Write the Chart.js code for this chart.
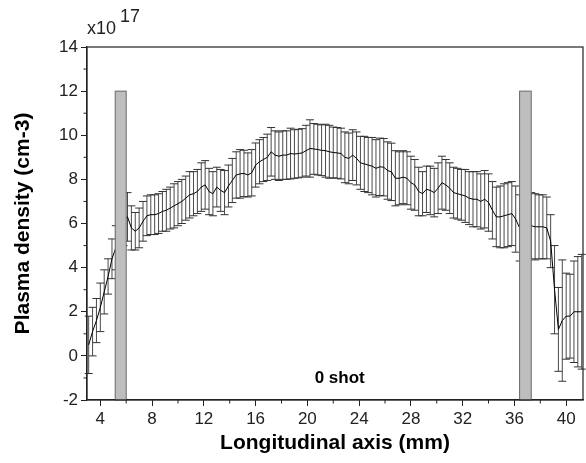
<!DOCTYPE html>
<html>
<head>
<meta charset="utf-8">
<script src="https://cdn.jsdelivr.net/npm/chart.js@4.4.1/dist/chart.umd.min.js"></script>
<style>
  body { margin: 0; background: #fff; }
  canvas { display: block; }
</style>
</head>
<body>
<canvas id="densityChart" width="586" height="463"></canvas>
<script>
// 縦軸位置 (mm)
const positions = [
  3.1, 3.4, 3.7, 4.0, 4.3, 4.6, 4.9, 5.2, 5.5, 5.8,
  6.1, 6.4, 6.7, 7.0, 7.3, 7.6, 7.9, 8.2, 8.5, 8.8,
  9.1, 9.4, 9.7, 10.0, 10.3, 10.6, 10.9, 11.2, 11.5, 11.8,
  12.1, 12.4, 12.7, 13.0, 13.3, 13.6, 13.9, 14.2, 14.5, 14.8,
  15.1, 15.4, 15.7, 16.0, 16.3, 16.6, 16.9, 17.2, 17.5, 17.8,
  18.1, 18.4, 18.7, 19.0, 19.3, 19.6, 19.9, 20.2, 20.5, 20.8,
  21.1, 21.4, 21.7, 22.0, 22.3, 22.6, 22.9, 23.2, 23.5, 23.8,
  24.1, 24.4, 24.7, 25.0, 25.3, 25.6, 25.9, 26.2, 26.5, 26.8,
  27.1, 27.4, 27.7, 28.0, 28.3, 28.6, 28.9, 29.2, 29.5, 29.8,
  30.1, 30.4, 30.7, 31.0, 31.3, 31.6, 31.9, 32.2, 32.5, 32.8,
  33.1, 33.4, 33.7, 34.0, 34.3, 34.6, 34.9, 35.2, 35.5, 35.8,
  36.1, 36.4, 36.7, 37.0, 37.3, 37.6, 37.9, 38.2, 38.5, 38.8,
  39.1, 39.4, 39.7, 40.0, 40.3, 40.6, 40.9, 41.2
];

// プラズマ密度 (x10^17 cm-3)
const density = [
  0.5, 1.1, 1.6, 2.2, 2.9, 3.6, 4.4, 4.9, 5.6, 6.2,
  6.3, 5.8, 5.65, 5.8, 6.1, 6.35, 6.4, 6.4, 6.45, 6.55,
  6.6, 6.7, 6.8, 6.9, 7.0, 7.15, 7.3, 7.35, 7.45, 7.65,
  7.75, 7.45, 7.35, 7.65, 7.5, 7.4, 7.7, 7.95, 8.2, 8.25,
  8.27, 8.2, 8.3, 8.65, 8.8, 8.9, 9.0, 9.25, 9.1, 9.05,
  9.1, 9.1, 9.17, 9.15, 9.17, 9.2, 9.3, 9.4, 9.38, 9.35,
  9.32, 9.3, 9.25, 9.22, 9.2, 9.17, 9.0, 8.95, 9.1, 8.95,
  8.75, 8.7, 8.65, 8.6, 8.5, 8.57, 8.55, 8.4, 8.34, 8.05,
  8.05, 8.1, 8.05, 7.85, 7.75, 7.45, 7.35, 7.55, 7.5, 7.4,
  7.6, 7.85, 7.75, 7.6, 7.4, 7.35, 7.3, 7.25, 7.15, 7.1,
  7.1, 7.0, 7.1, 6.95, 6.6, 6.3, 6.3, 6.35, 6.4, 6.45,
  6.2, 5.8, 5.8, 5.85, 5.9, 5.85, 5.85, 5.85, 5.8, 5.2,
  3.0, 1.2, 1.6, 1.8, 1.8, 2.0, 2.0, 2.0
];

// 誤差 (±)
const errors = [
  1.3, 1.1, 1.0, 1.1, 1.0, 0.8, 0.9, 1.0, 1.1, 1.2,
  1.1, 1.0, 0.85, 0.9, 0.9, 0.9, 0.9, 0.9, 0.9, 0.9,
  0.95, 0.95, 1.0, 1.0, 1.0, 1.0, 1.05, 1.0, 1.0, 1.1,
  1.1, 1.05, 1.0, 0.9, 0.95, 1.0, 0.95, 1.0, 1.05, 1.1,
  1.05, 1.0, 1.05, 1.0, 1.0, 1.0, 1.05, 1.1, 1.1, 1.1,
  1.1, 1.1, 1.15, 1.1, 1.1, 1.1, 1.15, 1.3, 1.15, 1.15,
  1.15, 1.2, 1.2, 1.15, 1.15, 1.15, 1.15, 1.15, 1.15, 1.2,
  1.2, 1.25, 1.25, 1.3, 1.3, 1.3, 1.3, 1.3, 1.3, 1.25,
  1.2, 1.2, 1.2, 1.2, 1.15, 1.1, 1.0, 1.05, 1.1, 1.1,
  1.15, 1.2, 1.15, 1.15, 1.15, 1.15, 1.15, 1.2, 1.2, 1.25,
  1.25, 1.25, 1.3, 1.3, 1.3, 1.35, 1.4, 1.45, 1.45, 1.45,
  1.5, 1.5, 1.5, 1.5, 1.5, 1.5, 1.45, 1.45, 1.4, 1.2,
  2.0, 1.9, 2.75, 1.95, 1.9, 2.3, 2.5, 2.6
];

// 電極位置 (灰色の帯)
const electrodeStart = [5.15, 36.4];
const electrodeEnd = [6.0, 37.3];
const electrodeTop = 12;

// 目盛り
const xMajorTicks = [4, 8, 12, 16, 20, 24, 28, 32, 36, 40];
const xMinorTicks = [6, 10, 14, 18, 22, 26, 30, 34, 38];
const yMajorTicks = [-2, 0, 2, 4, 6, 8, 10, 12, 14];
const yMinorTicks = [-1, 1, 3, 5, 7, 9, 11, 13];

const shotLabel = '0 shot';
const shotLabelPos = { x: 22.5, y: -1.0 };

const FONT = "'Liberation Sans', Arial, sans-serif";

// エラーバー描画
const errorBarPlugin = {
  id: 'errorBars',
  beforeDatasetsDraw(chart) {
    const { ctx, scales: { x, y } } = chart;
    ctx.save();
    ctx.lineWidth = 1;
    positions.forEach((pos, i) => {
      const px = x.getPixelForValue(pos);
      const top = y.getPixelForValue(density[i] + errors[i]);
      const bottom = y.getPixelForValue(density[i] - errors[i]);
      // 縦線
      ctx.strokeStyle = '#4a4a4a';
      ctx.beginPath();
      ctx.moveTo(px, top);
      ctx.lineTo(px, bottom);
      ctx.stroke();
      // キャップ
      ctx.strokeStyle = '#333';
      ctx.beginPath();
      ctx.moveTo(px - 4, top);
      ctx.lineTo(px + 4, top);
      ctx.moveTo(px - 4, bottom);
      ctx.lineTo(px + 4, bottom);
      ctx.stroke();
    });
    ctx.restore();
  }
};

// 電極・枠・ラベル
const overlayPlugin = {
  id: 'overlay',
  afterDatasetsDraw(chart) {
    const { ctx, chartArea, scales: { x, y } } = chart;
    ctx.save();

    electrodeStart.forEach((start, i) => {
      const left = x.getPixelForValue(start);
      const right = x.getPixelForValue(electrodeEnd[i]);
      const top = y.getPixelForValue(electrodeTop);
      const bottom = y.getPixelForValue(y.min);
      ctx.fillStyle = '#bebebe';
      ctx.fillRect(left, top, right - left, bottom - top);
      ctx.strokeStyle = '#6a6a6a';
      ctx.lineWidth = 1;
      ctx.strokeRect(left, top, right - left, bottom - top);
    });

    // 枠線
    ctx.strokeStyle = '#222';
    ctx.lineWidth = 1.2;
    ctx.strokeRect(chartArea.left, chartArea.top,
      chartArea.right - chartArea.left, chartArea.bottom - chartArea.top);

    // 補助目盛り
    ctx.lineWidth = 1;
    ctx.beginPath();
    xMinorTicks.forEach(v => {
      const px = x.getPixelForValue(v);
      ctx.moveTo(px, chartArea.bottom);
      ctx.lineTo(px, chartArea.bottom + 3.5);
    });
    yMinorTicks.forEach(v => {
      const py = y.getPixelForValue(v);
      ctx.moveTo(chartArea.left, py);
      ctx.lineTo(chartArea.left - 3.5, py);
    });
    ctx.stroke();

    // ショット数
    ctx.fillStyle = '#000';
    ctx.font = 'bold 17px ' + FONT;
    ctx.textAlign = 'center';
    ctx.textBaseline = 'middle';
    ctx.fillText(shotLabel, x.getPixelForValue(shotLabelPos.x), y.getPixelForValue(shotLabelPos.y));

    // 指数表示
    ctx.fillStyle = '#222';
    ctx.font = '18px ' + FONT;
    ctx.textAlign = 'left';
    ctx.textBaseline = 'alphabetic';
    ctx.fillText('x10', chartArea.left, 34);
    ctx.fillText('17', chartArea.left + 33, 22);

    ctx.restore();
  }
};

const chartConfig = {
  type: 'line',
  data: {
    datasets: [{
      label: 'density',
      data: positions.map((pos, i) => ({ x: pos, y: density[i] })),
      borderColor: '#000',
      borderWidth: 1,
      pointRadius: 0,
      tension: 0,
      fill: false
    }]
  },
  options: {
    responsive: false,
    animation: false,
    layout: { padding: { top: 47, right: 3, left: 0, bottom: 0 } },
    plugins: {
      legend: { display: false },
      tooltip: { enabled: false }
    },
    scales: {
      x: {
        type: 'linear',
        min: 2.97,
        max: 41.3,
        afterBuildTicks: axis => { axis.ticks = xMajorTicks.map(v => ({ value: v })); },
        afterFit: axis => { axis.height = 63; },
        ticks: {
          color: '#222',
          font: { family: FONT, size: 17 },
          padding: 3,
          maxRotation: 0,
          autoSkip: false
        },
        grid: {
          drawOnChartArea: false,
          drawTicks: true,
          tickLength: 6,
          tickColor: '#222'
        },
        border: { color: '#222', width: 1.2 },
        title: {
          display: true,
          text: 'Longitudinal axis (mm)',
          color: '#000',
          font: { family: FONT, size: 21, weight: 'bold' },
          padding: { top: 0, bottom: 7 }
        }
      },
      y: {
        type: 'linear',
        min: -2,
        max: 14,
        afterBuildTicks: axis => { axis.ticks = yMajorTicks.map(v => ({ value: v })); },
        afterFit: axis => { axis.width = 87; },
        ticks: {
          color: '#222',
          font: { family: FONT, size: 17 },
          padding: 3
        },
        grid: {
          drawOnChartArea: false,
          drawTicks: true,
          tickLength: 6,
          tickColor: '#222'
        },
        border: { color: '#222', width: 1.2 },
        title: {
          display: true,
          text: 'Plasma density (cm-3)',
          color: '#000',
          font: { family: FONT, size: 21, weight: 'bold' },
          padding: { top: 11, bottom: 4 }
        }
      }
    }
  },
  plugins: [errorBarPlugin, overlayPlugin]
};

new Chart(document.getElementById('densityChart'), chartConfig);
</script>
</body>
</html>
